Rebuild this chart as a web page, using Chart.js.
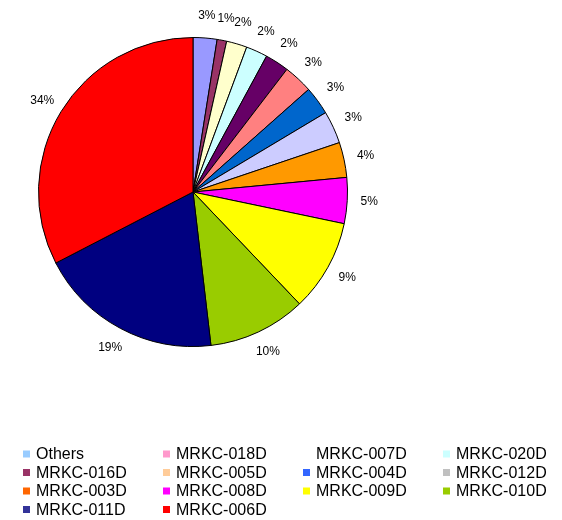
<!DOCTYPE html>
<html>
<head>
<meta charset="utf-8">
<script src="https://cdn.jsdelivr.net/npm/chart.js@4/dist/chart.umd.min.js"></script>
<style>
  html, body { margin: 0; padding: 0; background: #ffffff; }
  #wrap { width: 562px; height: 520px; }
</style>
</head>
<body>
<div id="wrap"><canvas id="c" width="562" height="520"></canvas></div>
<script>
// ---- data ----
const categories = ["Others", "MRKC-018D", "MRKC-007D", "MRKC-020D", "MRKC-016D", "MRKC-005D", "MRKC-004D",
                    "MRKC-012D", "MRKC-003D", "MRKC-008D", "MRKC-009D", "MRKC-010D", "MRKC-011D", "MRKC-006D"];
// slice sizes as drawn in the picture (percent of the circle)
const shares = [2.5, 1.0, 2.15, 2.25, 2.5, 3.05, 2.97, 3.4, 3.67, 4.8, 9.6, 10.25, 19.25, 32.6];
// percentage labels as printed on the picture
const pctText = ["3%", "1%", "2%", "2%", "2%", "3%", "3%", "3%", "4%", "5%", "9%", "10%", "19%", "34%"];

// ---- styles ----
const sliceColors = ["#9999FF", "#993366", "#FFFFCC", "#CCFFFF", "#660066", "#FF8080", "#0066CC",
                     "#CCCCFF", "#FF9900", "#FF00FF", "#FFFF00", "#99CC00", "#000080", "#FF0000"];
const legendColors = ["#99CCFF", "#FF99CC", "#FFFFFF", "#CCFFFF", "#993366", "#FFCC99", "#3366FF",
                      "#C0C0C0", "#FF6600", "#FF00FF", "#FFFF00", "#99CC00", "#333399", "#FF0000"];

const pctLabels = {
  id: 'pctLabels',
  afterDatasetsDraw(chart) {
    const ctx = chart.ctx;
    const meta = chart.getDatasetMeta(0);
    ctx.save();
    ctx.font = '12px "Liberation Sans", Arial, sans-serif';
    ctx.fillStyle = '#000000';
    ctx.textAlign = 'center';
    ctx.textBaseline = 'middle';
    meta.data.forEach((arc, i) => {
      const p = arc.getProps(['x', 'y', 'startAngle', 'endAngle', 'outerRadius'], true);
      const mid = (p.startAngle + p.endAngle) / 2;
      const d = p.outerRadius + 22;
      const x = p.x + Math.cos(mid) * d;
      const y = p.y + Math.sin(mid) * d;
      ctx.fillText(pctText[i], x, y);
    });
    ctx.restore();
  }
};

const gridLegend = {
  id: 'gridLegend',
  afterDraw(chart) {
    const ctx = chart.ctx;
    const cols = 4;
    const colStart = 23, colStep = 140, rowStart = 454, rowStep = 18.5;
    ctx.save();
    ctx.font = '16px "Liberation Sans", Arial, sans-serif';
    ctx.textBaseline = 'middle';
    ctx.textAlign = 'left';
    categories.forEach((name, i) => {
      const c = i % cols, r = Math.floor(i / cols);
      const x = colStart + c * colStep;
      const y = rowStart + r * rowStep;
      ctx.fillStyle = legendColors[i];
      ctx.fillRect(x, y - 3.5, 7, 7);
      ctx.fillStyle = '#000000';
      ctx.fillText(name, x + 13, y + 1);
    });
    ctx.restore();
  }
};

new Chart(document.getElementById('c'), {
  type: 'pie',
  data: {
    labels: categories,
    datasets: [{
      data: shares,
      backgroundColor: sliceColors,
      borderColor: '#000000',
      borderWidth: 1
    }]
  },
  options: {
    responsive: false,
    devicePixelRatio: 1,
    animation: false,
    layout: { padding: { left: 38, top: 37, right: 214, bottom: 173 } },
    plugins: {
      legend: { display: false },
      tooltip: { enabled: false }
    }
  },
  plugins: [pctLabels, gridLegend]
});
</script>
</body>
</html>
